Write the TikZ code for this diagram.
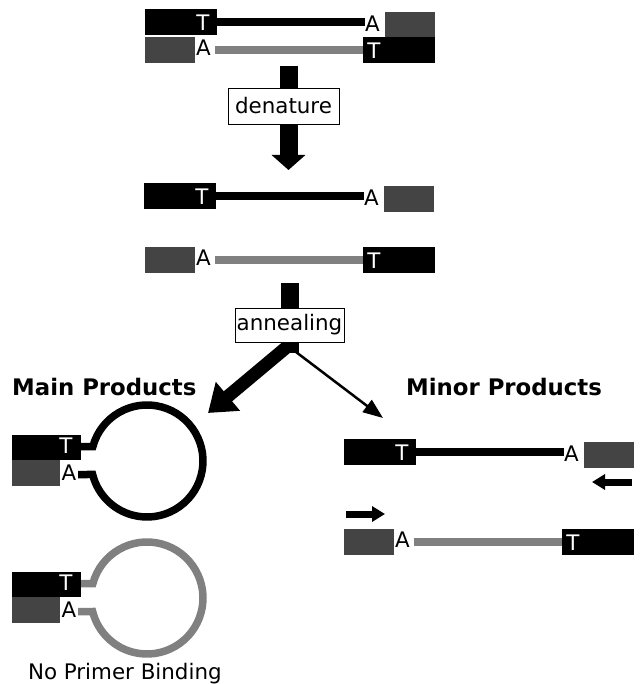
\documentclass[tikz,border=0pt]{standalone}
\usepackage{fontspec}
\setmainfont{DejaVu Sans}
\usetikzlibrary{arrows.meta}
\definecolor{dgray}{HTML}{444444}
\definecolor{mgray}{HTML}{808080}
\tikzset{
  boxblk/.style={rectangle, fill=black, inner sep=0, outer sep=0, anchor=north west},
  boxgry/.style={rectangle, fill=dgray, inner sep=0, outer sep=0, anchor=north west},
  lett/.style={inner sep=0, outer sep=0, font=\fontsize{21.4}{22}\selectfont},
  strandB/.style={line width=8.5, draw=black},
  strandG/.style={line width=8.5, draw=mgray},
  labelbox/.style={draw, line width=0.9, fill=white, inner sep=0, font=\fontsize{21.4}{22}\selectfont},
  headtxt/.style={font=\bfseries\fontsize{22.8}{24}\selectfont, inner sep=0, anchor=base west},
  bigarrow/.style={line width=18, -{Triangle[length=15pt, width=33pt]}},
  smallarrow/.style={line width=7, -{Triangle[length=13pt, width=15pt]}},
  loopline/.style={line width=7.5, line join=miter}
}
% strand: black box - T ... line ... A - gray box
\newcommand{\strandOne}[3]{%
  \node[boxblk, minimum width=72, minimum height=26] (#1bk) at (#2,#3) {};
  \node[boxgry, minimum width=50, minimum height=26] (#1gy) at ({#2+240},{#3+3}) {};
  \node[lett, text=white] (#1T) at ({#2+58},{#3+14}) {T};
  \node[lett] (#1A) at ({#2+227.5},{#3+14.5}) {A};
  \draw[strandB] (#1bk.east) -- (#1A.west |- #1bk.east);
}
% strand: gray box - A ... line ... T - black box
\newcommand{\strandTwo}[3]{%
  \node[boxgry, minimum width=50, minimum height=26] (#1gy) at (#2,#3) {};
  \node[boxblk, minimum width=72, minimum height=26] (#1bk) at ({#2+218},#3) {};
  \node[lett] (#1A) at ({#2+58.5},{#3+10.5}) {A};
  \node[lett, text=white] (#1T) at ({#2+229},{#3+13.5}) {T};
  \draw[strandG, shorten <=4.5pt] (#1A.east |- #1gy.east) -- (#1bk.west);
}
% loop group: name, top y, colour
\newcommand{\loopGroup}[3]{%
  \node[boxblk, minimum width=69, minimum height=25] (#1bk) at (12,#2) {};
  \node[boxgry, minimum width=48, minimum height=26] (#1gy) at (12,{#2+25}) {};
  \node[lett, text=white] (#1T) at (66,{#2+11}) {T};
  \node[lett] (#1A) at (69,{#2+38}) {A};
  \coordinate (#1s1) at (81,{#2+11.5});
  \coordinate (#1s2) at (78,{#2+39.5});
  \draw[loopline, draw=#3] (#1s1) -- (92.9,{#2+11.5})
     arc[start angle=195, end angle=526.05, radius=56] -- (#1s2);
}
\begin{document}
\begin{tikzpicture}[x=1pt,y=-1pt]
\useasboundingbox (0,0) rectangle (640,684);
\fill[white] (0,0) rectangle (640,684);

% top duplex
\strandOne{u}{145}{9}
\strandTwo{l}{145}{37}

% denature arrow
\coordinate (d0) at (288.5,66);
\coordinate (d1) at (288.5,170);
\draw[bigarrow] (d0) -- (d1);
\node[labelbox, minimum width=111, minimum height=36] (den) at (283.5,106) {denature};

% single strands
\strandOne{p}{144}{183}
\strandTwo{q}{145}{247}

% annealing
\coordinate (a0) at (290,283);
\coordinate (a1) at (290,353);
\draw[line width=18] (a0) -- (a1);
\coordinate (j1) at (288,346);
\coordinate (mainTip) at (208,413);
\draw[line width=13, -{Triangle[length=26pt, width=36pt]}] (j1) -- (mainTip);
\coordinate (j2) at (296,352);
\coordinate (minorTip) at (383,418);
\draw[line width=2.5, -{Triangle[length=20pt, width=15pt]}] (j2) -- (minorTip);
\node[labelbox, minimum width=109, minimum height=34] (ann) at (289.5,325) {annealing};

% headings
\node[headtxt] (mainH) at (12,395) {Main Products};
\node[headtxt] (minorH) at (406,395) {Minor Products};

% main products loops
\loopGroup{m}{435}{black}
\loopGroup{n}{572}{mgray}
\node[lett, anchor=base west] (npb) at (28,679) {No Primer Binding};

% minor products
\strandOne{r}{344}{439}
\strandTwo{s}{344}{529}
\coordinate (la0) at (632,482);
\coordinate (la1) at (592,482);
\draw[smallarrow] (la0) -- (la1);
\coordinate (ra0) at (346,514);
\coordinate (ra1) at (385,514);
\draw[smallarrow] (ra0) -- (ra1);
\end{tikzpicture}
\end{document}
